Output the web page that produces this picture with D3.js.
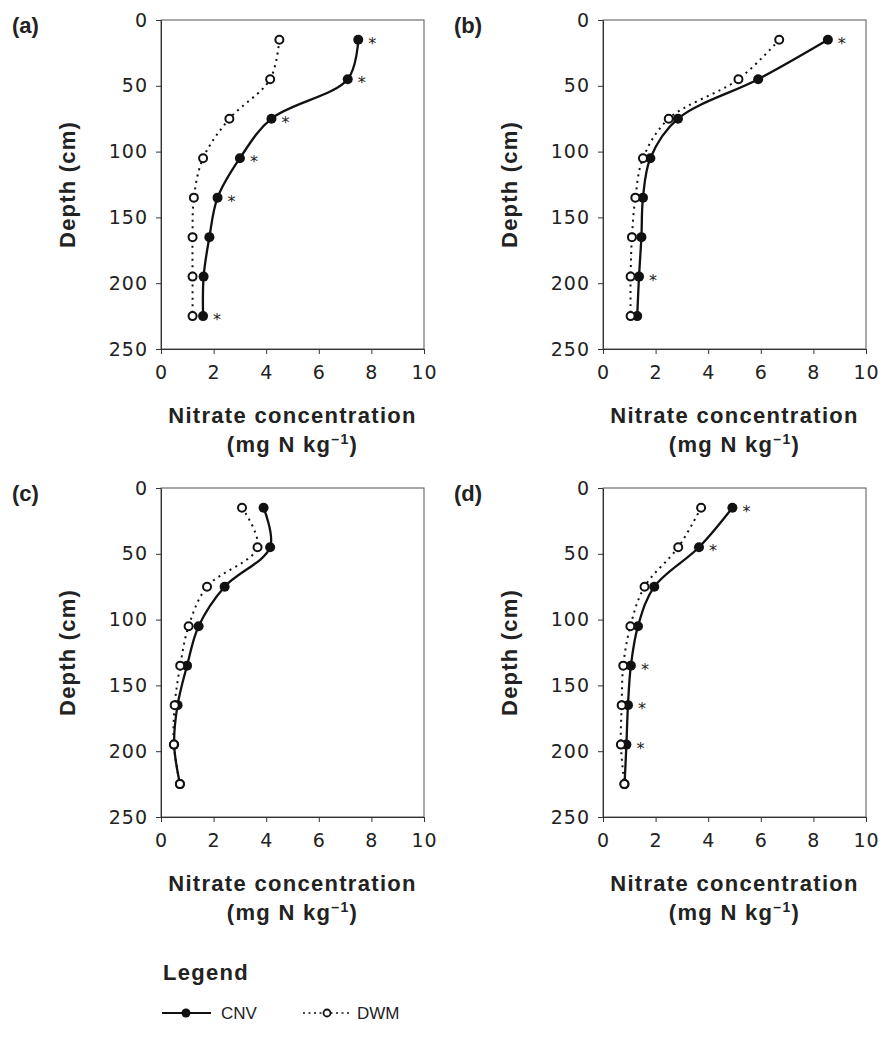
<!DOCTYPE html>
<html>
<head>
<meta charset="utf-8">
<script src="https://cdn.jsdelivr.net/npm/d3@7"></script>
<style>
  body { margin: 0; background: #fff; }
  svg { display: block; }
</style>
</head>
<body>
<svg id="chart" width="893" height="1039"></svg>
<script>
// ---- data ----
const depths = [15, 45, 75, 105, 135, 165, 195, 225];
const xTicks = [0, 2, 4, 6, 8, 10];
const yTicks = [0, 50, 100, 150, 200, 250];
const panelLabels = ["(a)", "(b)", "(c)", "(d)"];
const seriesNames = ["CNV", "DWM"];

const cnvA = [7.5, 7.1, 4.2, 3.0, 2.15, 1.84, 1.62, 1.6];
const dwmA = [4.5, 4.15, 2.6, 1.6, 1.25, 1.2, 1.2, 1.2];
const sigA = [1, 1, 1, 1, 1, 0, 0, 1];

const cnvB = [8.55, 5.9, 2.85, 1.8, 1.52, 1.46, 1.37, 1.3];
const dwmB = [6.7, 5.15, 2.5, 1.52, 1.23, 1.1, 1.05, 1.05];
const sigB = [1, 0, 0, 0, 0, 0, 1, 0];

const cnvC = [3.9, 4.15, 2.42, 1.43, 0.99, 0.63, 0.5, 0.72];
const dwmC = [3.08, 3.67, 1.75, 1.05, 0.73, 0.52, 0.49, 0.72];
const sigC = [0, 0, 0, 0, 0, 0, 0, 0];

const cnvD = [4.92, 3.65, 1.95, 1.33, 1.06, 0.95, 0.89, 0.82];
const dwmD = [3.73, 2.86, 1.58, 1.04, 0.77, 0.71, 0.68, 0.81];
const sigD = [1, 1, 0, 0, 1, 1, 1, 0];

const panelData = [
  { label: panelLabels[0], cnv: cnvA, dwm: dwmA, sig: sigA },
  { label: panelLabels[1], cnv: cnvB, dwm: dwmB, sig: sigB },
  { label: panelLabels[2], cnv: cnvC, dwm: dwmC, sig: sigC },
  { label: panelLabels[3], cnv: cnvD, dwm: dwmD, sig: sigD }
];

// ---- layout ----
const lefts = [161, 603];
const tops = [20, 488];
const W = 263, H = 329;

const svg = d3.select("#chart");
const boldFont = "'Liberation Sans', Arial, sans-serif";
const tickFont = "'DejaVu Sans', sans-serif";

const x = d3.scaleLinear().domain([0, 10]).range([0, W]);
const y = d3.scaleLinear().domain([0, 250]).range([0, H]);

const curve = d3.curveCatmullRom.alpha(0.5);

panelData.forEach((p, i) => {
  const left = lefts[i % 2], top = tops[Math.floor(i / 2)];
  const g = svg.append("g").attr("transform", `translate(${left},${top})`);

  g.append("rect").attr("x", 0).attr("y", 0).attr("width", W).attr("height", H)
    .attr("fill", "none").attr("stroke", "#555").attr("stroke-width", 1);

  const ya = g.append("g").call(d3.axisLeft(y).tickValues(yTicks).tickSize(5).tickSizeOuter(0).tickPadding(8));
  const xa = g.append("g").attr("transform", `translate(0,${H})`)
    .call(d3.axisBottom(x).tickValues(xTicks).tickSize(5).tickSizeOuter(0).tickPadding(12));
  [ya, xa].forEach(a => {
    a.attr("font-size", 19).attr("font-family", tickFont);
    a.select(".domain").attr("stroke", "#333");
    a.selectAll(".tick line").attr("stroke", "#333");
    a.selectAll(".tick text").attr("fill", "#222").style("font-family", tickFont)
      .style("font-size", "19px").style("letter-spacing", "1px");
  });

  const pts = arr => arr.map((v, k) => [v, depths[k]]);
  const line = d3.line().x(d => x(d[0])).y(d => y(d[1])).curve(curve);

  g.append("path").attr("d", line(pts(p.cnv))).attr("fill", "none")
    .attr("stroke", "#111").attr("stroke-width", 2.3);
  g.append("path").attr("d", line(pts(p.dwm))).attr("fill", "none")
    .attr("stroke", "#111").attr("stroke-width", 2).attr("stroke-dasharray", "2,4.5");

  g.selectAll(".cnv").data(pts(p.cnv)).join("circle")
    .attr("cx", d => x(d[0])).attr("cy", d => y(d[1])).attr("r", 5).attr("fill", "#111");
  g.selectAll(".dwm").data(pts(p.dwm)).join("circle")
    .attr("cx", d => x(d[0])).attr("cy", d => y(d[1])).attr("r", 4)
    .attr("fill", "#fff").attr("stroke", "#111").attr("stroke-width", 2);

  g.selectAll(".sig").data(pts(p.cnv).filter((d, k) => p.sig[k])).join("text")
    .attr("x", d => x(d[0]) + 10).attr("y", d => y(d[1]) + 9)
    .style("font-family", tickFont).style("font-size", "16px").attr("fill", "#222")
    .text("*");

  svg.append("text").attr("x", left - 149).attr("y", top + 13)
    .style("font-family", boldFont).style("font-weight", "bold").style("font-size", "22px")
    .attr("fill", "#222").text(p.label);

  svg.append("text")
    .attr("transform", `translate(${left - 86},${top + H / 2}) rotate(-90)`)
    .attr("text-anchor", "middle")
    .style("font-family", boldFont).style("font-weight", "bold").style("font-size", "22px")
    .style("letter-spacing", "1.2px").attr("fill", "#222")
    .text("Depth (cm)");

  svg.append("text").attr("x", left + W / 2).attr("y", top + 403).attr("text-anchor", "middle")
    .style("font-family", boldFont).style("font-weight", "bold").style("font-size", "22px")
    .style("letter-spacing", "1.3px").attr("fill", "#222")
    .text("Nitrate concentration");
  const t2 = svg.append("text").attr("x", left + W / 2).attr("y", top + 432).attr("text-anchor", "middle")
    .style("font-family", boldFont).style("font-weight", "bold").style("font-size", "22px")
    .style("letter-spacing", "1.3px").attr("fill", "#222");
  t2.append("tspan").text("(mg N kg");
  t2.append("tspan").attr("dy", -8).style("font-size", "14px").text("\u20131");
  t2.append("tspan").attr("dy", 8).text(")");
});

const lg = svg.append("g");
lg.append("text").attr("x", 163).attr("y", 980)
  .style("font-family", boldFont).style("font-weight", "bold").style("font-size", "22px")
  .style("letter-spacing", "1.3px").attr("fill", "#222").text("Legend");

const legY = 1013;
const legItems = [
  { name: seriesNames[0], x0: 162, x1: 211, cx: 186, tx: 221, dash: null, filled: true },
  { name: seriesNames[1], x0: 303, x1: 352, cx: 327, tx: 357, dash: "2,3.5", filled: false }
];
legItems.forEach(it => {
  const l = lg.append("line").attr("x1", it.x0).attr("x2", it.x1).attr("y1", legY).attr("y2", legY)
    .attr("stroke", "#111").attr("stroke-width", it.dash ? 1.5 : 2);
  if (it.dash) l.attr("stroke-dasharray", it.dash);
  if (it.filled) {
    lg.append("circle").attr("cx", it.cx).attr("cy", legY).attr("r", 4.5).attr("fill", "#111");
  } else {
    lg.append("circle").attr("cx", it.cx).attr("cy", legY).attr("r", 3.5)
      .attr("fill", "#fff").attr("stroke", "#111").attr("stroke-width", 1.8);
  }
  lg.append("text").attr("x", it.tx).attr("y", legY + 6)
    .style("font-family", "'Liberation Sans', Arial, sans-serif").style("font-size", "17px")
    .attr("fill", "#222").text(it.name);
});
</script>
</body>
</html>
